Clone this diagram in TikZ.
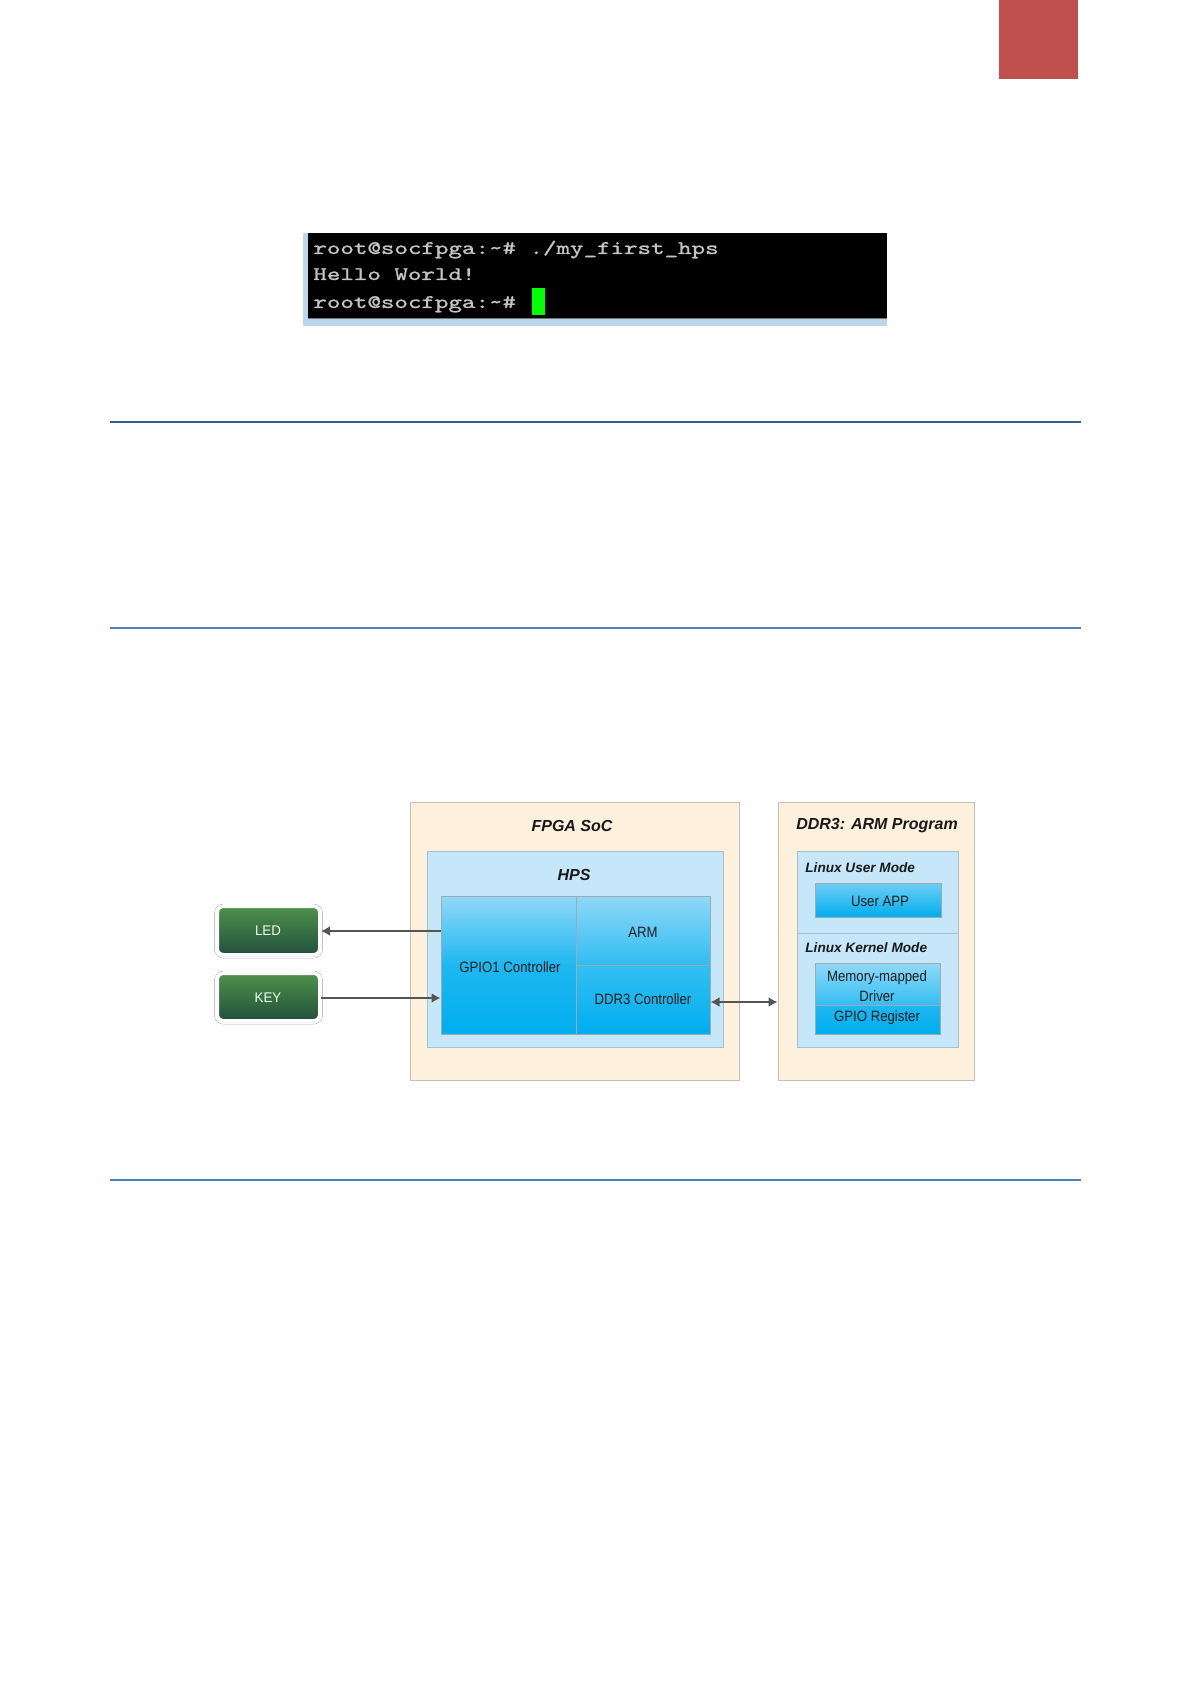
\documentclass[tikz,border=0pt]{standalone}
\usepackage{fontspec}
\setmainfont{Liberation Sans}
\newfontfamily\nsans[FakeStretch=0.88]{Liberation Sans}
\newfontfamily\ledfont[FakeStretch=0.95]{Liberation Sans}
\newfontfamily\termfont[FakeStretch=1.34,FakeBold=1.2]{lmmono10-regular.otf}
\usetikzlibrary{arrows.meta,fit,shadows.blur}
\definecolor{cream}{HTML}{FDF0DC}
\definecolor{creamline}{HTML}{C9BFB3}
\definecolor{lblue}{HTML}{C6E7FA}
\definecolor{lblueline}{HTML}{A6C0D0}
\definecolor{btop}{HTML}{90D8F8}
\definecolor{bmid}{HTML}{1EB8F1}
\definecolor{bbot}{HTML}{00ADEE}
\definecolor{bline}{HTML}{A0A8B0}
\definecolor{arrgray}{HTML}{555555}
\definecolor{gtop}{HTML}{4F914A}
\definecolor{gbot}{HTML}{22503C}
\definecolor{tabred}{HTML}{C0504D}
\definecolor{ruleA}{HTML}{365F91}
\definecolor{ruleB}{HTML}{4F81BD}
\definecolor{ruleC}{HTML}{4A7EBB}
\definecolor{termtxt}{HTML}{C4C4C4}
\definecolor{termfr}{HTML}{BCD5EF}
\definecolor{cursgreen}{HTML}{00FF00}
\definecolor{txtdark}{HTML}{1E1E1E}
\tikzset{
  outerbox/.style={draw=creamline, fill=cream, line width=0.5pt, inner sep=0pt},
  lbbox/.style={draw=lblueline, fill=lblue, line width=0.5pt, inner sep=0pt},
  bluebl/.style={draw=bline, line width=0.5pt, inner sep=0pt},
  bltxt/.style={inner sep=0pt, text=txtdark, font=\nsans\fontsize{7.5}{10}\selectfont, align=center},
  ttl/.style={font=\bfseries\itshape\fontsize{8}{10}\selectfont, text=black!90, inner sep=0pt},
  subttl/.style={font=\bfseries\itshape\fontsize{6.8}{8}\selectfont, text=black!90, inner sep=0pt, anchor=west},
  btnbox/.style={draw=white, line width=1.5pt, rounded corners=3pt, top color=gtop, bottom color=gbot,
     inner sep=0pt,
     blur shadow={shadow xshift=0pt, shadow yshift=-0.3pt, shadow blur radius=1.5pt, shadow opacity=18}},
  btntxt/.style={inner sep=0pt, text=white!94!green, font=\ledfont\fontsize{7}{8}\selectfont},
  arr/.style={draw=arrgray, line width=1pt, -{Latex[length=4.5pt,width=5pt]}},
  arrboth/.style={draw=arrgray, line width=1pt, {Latex[length=4.5pt,width=5pt]}-{Latex[length=4.5pt,width=5pt]}},
  termbox/.style={fill=black, inner sep=0pt},
  termframe/.style={fill=termfr, inner sep=0pt},
  termline/.style={text=termtxt, inner sep=0pt, anchor=base west,
     font=\termfont\fontsize{9.6}{11}\selectfont},
  cursbox/.style={fill=cursgreen, inner sep=0pt},
}
\begin{document}
\begin{tikzpicture}[x=0.5pt,y=-0.5pt]
\useasboundingbox (0,0) rectangle (1190,1684);
\fill[white] (0,0) rectangle (1190,1684);

% red tab
\node[fill=tabred, inner sep=0pt, fit={(999,0) (1078,79)}] (tab) {};

% terminal
\node[termframe, fit={(303,233) (887,326)}] (tframe) {};
\node[termbox, fit={(308,233) (887,318)}] (term) {};
\draw[black!55, line width=0.5pt] (term.south west) -- (term.south east);
\node[termline] (l1) at (313,254) {root@socfpga:\textasciitilde\# ./my\_first\_hps};
\node[termline] (l2) at (313,280) {Hello World!};
\node[termline] (l3) at (313,308) {root@socfpga:\textasciitilde\#};
\node[cursbox, fit={(532,288) (545,315)}] (cur) {};

% rules
\draw[ruleA, line width=1pt] (110,422) -- (1081,422);
\draw[ruleB, line width=1pt] (110,628) -- (1081,628);
\draw[ruleC, line width=0.6pt] (110,1180) -- (1081,1180);

% FPGA SoC
\node[outerbox, fit={(410,802) (739,1080)}] (fpga) {};
\node[ttl] (fpgat) at (572,826) {FPGA SoC};
\node[lbbox, fit={(427,851) (723,1047)}] (hps) {};
\node[ttl] (hpst) at (574,875) {HPS};
\node[bluebl, top color=btop, bottom color=bbot, middle color=bmid, fit={(441,896) (576,1034)}] (gpio) {};
\node[bluebl, top color=btop, bottom color=bmid!85!btop, fit={(576,896) (710,965)}] (arm) {};
\node[bluebl, top color=bmid!90!white, bottom color=bbot, fit={(576,965) (710,1034)}] (ddrc) {};
\node[bltxt] (gpiot) at (510,967) {GPIO1 Controller};
\node[bltxt] (armt) at (643,932) {ARM};
\node[bltxt] (ddrct) at (643,999) {DDR3 Controller};

% DDR3 program
\node[outerbox, fit={(778,802) (974,1080)}] (ddr) {};
\node[ttl] (ddrt) at (877,826) {DDR3: ARM Program};
\node[lbbox, fit={(797,851) (958,933)}] (umode) {};
\node[lbbox, fit={(797,933) (958,1047)}] (kmode) {};
\node[subttl] (umodet) at (805,868) {Linux User Mode};
\node[subttl] (kmodet) at (805,948) {Linux Kernel Mode};
\node[bluebl, top color=btop!70!bmid, bottom color=bbot, fit={(815,883) (941,917)}] (app) {};
\node[bluebl, top color=btop, bottom color=bmid!80!btop, fit={(815,963) (940,1005)}] (mmd) {};
\node[bluebl, top color=bmid, bottom color=bbot, fit={(815,1005) (940,1034)}] (greg) {};
\node[bltxt] (appt) at (880,901) {User APP};
\node[bltxt] (mmdt) at (877,986) {Memory-mapped\\Driver};
\node[bltxt] (gregt) at (877,1018) {GPIO Register};

% LED / KEY
\node[btnbox, fit={(217.5,906.5) (319.5,954.5)}] (led) {};
\node[btnbox, fit={(217.5,973.5) (319.5,1020.5)}] (key) {};
\node[btntxt] (ledt) at (268,931) {LED};
\node[btntxt] (keyt) at (268,998) {KEY};

% connectors
\draw[arr] (gpio.west |- ledt) -- (led.east |- ledt);
\draw[arr] (key.east |- keyt) -- (gpio.west |- keyt);
\draw[arrboth] (ddrc.east |- 0,1002) -- (ddr.west |- 0,1002);
\end{tikzpicture}
\end{document}
